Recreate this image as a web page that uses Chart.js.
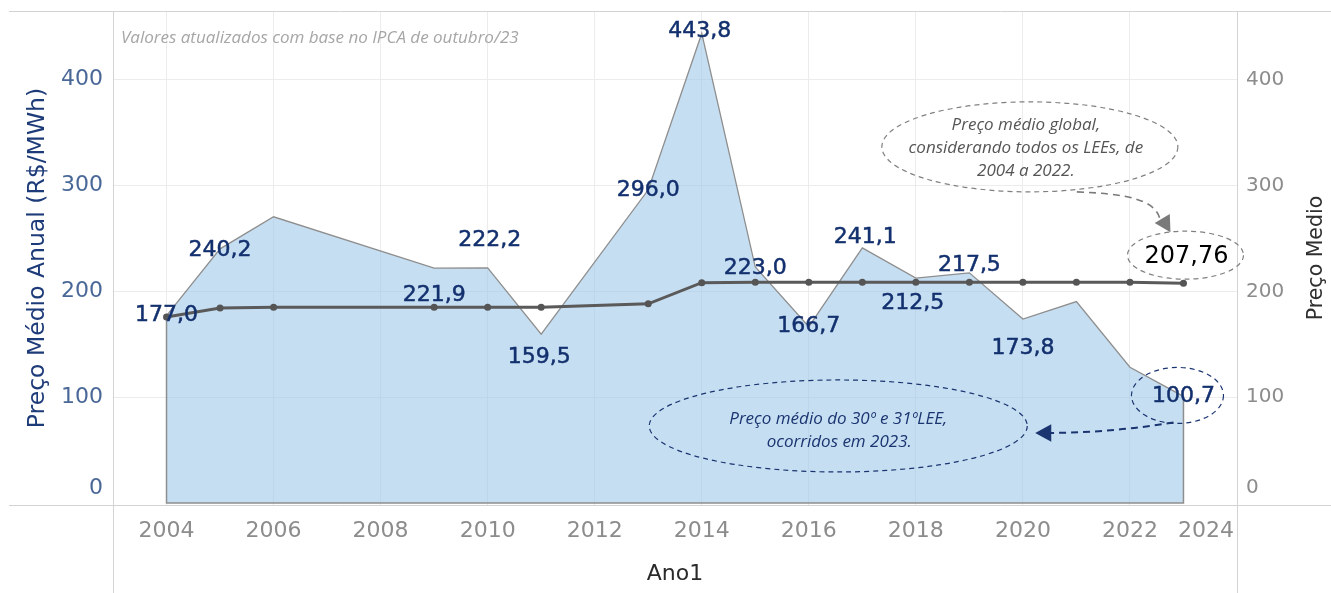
<!DOCTYPE html>
<html>
<head>
<meta charset="utf-8">
<script src="https://cdn.jsdelivr.net/npm/chart.js@4.4.0/dist/chart.umd.min.js"></script>
<style>
  html, body { margin: 0; padding: 0; background: #fff; }
  #wrap { width: 1331px; height: 593px; }
</style>
</head>
<body>
<div id="wrap"><canvas id="grafico" width="1331" height="593"></canvas></div>
<script>
// anos com leilao (sem 2007, 2008 e 2012)
const anos = [2004, 2005, 2006, 2009, 2010, 2011, 2013, 2014, 2015, 2016, 2017, 2018, 2019, 2020, 2021, 2022, 2023];
// preco medio anual (R$/MWh)
const precoAnual = [177.0, 240.2, 270.5, 221.9, 222.2, 159.5, 296.0, 443.8, 223.0, 166.7, 241.1, 212.5, 217.5, 173.8, 190.4, 128.3, 100.7];
// preco medio acumulado
const precoMedio = [175.8, 184.3, 185.1, 185.1, 185.1, 185.1, 188.2, 208.2, 208.6, 208.6, 208.6, 208.6, 208.6, 208.6, 208.6, 208.6, 207.76];
// quais anos levam rotulo
const comRotulo = [true, true, false, true, true, true, true, true, true, true, true, true, true, true, false, false, true];

const anoTicks = [2004, 2006, 2008, 2010, 2012, 2014, 2016, 2018, 2020, 2022, 2024];
const precoTicks = [0, 100, 200, 300, 400];

// deslocamento dos rotulos em px (dx, dy) - so layout
const rotuloDesloc = [[0,0],[0,1],null,[0,27],[2,-28],[-2,23],[0,0],[-2,-2],[0,1],[0,0],[3,-11],[-3,25],[0,-8],[0,29],null,null,[0,0]];

const fmt = (v, d) => v.toFixed(d).replace('.', ',');

Chart.defaults.font.family = '"DejaVu Sans", sans-serif';

function seta(ctx, x, y, ang, tam) {
    ctx.save();
    ctx.translate(x, y);
    ctx.rotate(ang);
    ctx.setLineDash([]);
    ctx.beginPath();
    ctx.moveTo(0, 0);
    ctx.lineTo(-tam, -tam * 0.55);
    ctx.lineTo(-tam, tam * 0.55);
    ctx.closePath();
    ctx.fill();
    ctx.restore();
}

function elipse(ctx, cx, cy, rx, ry, cor, dash) {
    ctx.save();
    ctx.strokeStyle = cor;
    ctx.lineWidth = 1.2;
    ctx.setLineDash(dash);
    ctx.beginPath();
    ctx.ellipse(cx, cy, rx, ry, 0, 0, Math.PI * 2);
    ctx.stroke();
    ctx.restore();
}

// sem folga extra do chart.js nas pontas dos eixos
function semFolga(s) {
    s.paddingTop = 0;
    s.paddingBottom = 0;
    s.paddingLeft = 0;
    s.paddingRight = 0;
}

// contorno vertical da area (bordas esquerda/direita e base)
const bordaArea = {
    id: 'bordaArea',
    afterDatasetDraw(chart, args) {
        if (args.index !== 0) return;
        const ctx = chart.ctx;
        const pts = args.meta.data;
        const y0 = chart.scales.y.getPixelForValue(0);
        ctx.save();
        ctx.strokeStyle = '#8e8e8e';
        ctx.lineWidth = 1.5;
        ctx.beginPath();
        ctx.moveTo(pts[0].x, pts[0].y);
        ctx.lineTo(pts[0].x, y0);
        ctx.lineTo(pts[pts.length - 1].x, y0);
        ctx.lineTo(pts[pts.length - 1].x, pts[pts.length - 1].y);
        ctx.stroke();
        ctx.restore();
    }
};

const extras = {
    id: 'extras',
    afterDraw(chart) {
        const ctx = chart.ctx;
        const ca = chart.chartArea;
        const x = chart.scales.x, y = chart.scales.y;
        const W = chart.width, H = chart.height;
        ctx.save();

        // molduras
        ctx.strokeStyle = '#d3d3d3';
        ctx.lineWidth = 1;
        ctx.beginPath();
        ctx.moveTo(9, ca.top + 0.5); ctx.lineTo(W, ca.top + 0.5);
        ctx.moveTo(9, ca.bottom + 0.5); ctx.lineTo(W, ca.bottom + 0.5);
        ctx.moveTo(ca.left + 0.5, ca.top); ctx.lineTo(ca.left + 0.5, H);
        ctx.moveTo(ca.right + 0.5, ca.top); ctx.lineTo(ca.right + 0.5, H);
        ctx.stroke();

        // rotulos "0" levantados e 2024 recuado
        const y0 = y.getPixelForValue(0) - 15;
        ctx.textBaseline = 'middle';
        ctx.font = '22px "DejaVu Sans"';
        ctx.fillStyle = '#4a6897';
        ctx.textAlign = 'right';
        ctx.fillText('0', ca.left - 10, y0);
        ctx.font = '20px "DejaVu Sans"';
        ctx.fillStyle = '#8c8c8c';
        ctx.textAlign = 'left';
        ctx.fillText('0', ca.right + 9, y0);
        ctx.font = '22px "DejaVu Sans"';
        ctx.textAlign = 'right';
        ctx.textBaseline = 'top';
        ctx.fillText(String(anoTicks[anoTicks.length - 1]), ca.right - 3, x.top + 15);

        // titulo eixo direito (de baixo para cima)
        ctx.save();
        ctx.translate(W - 14, (ca.top + ca.bottom) / 2);
        ctx.rotate(-Math.PI / 2);
        ctx.font = '20.5px "DejaVu Sans"';
        ctx.fillStyle = '#2f2f2f';
        ctx.textAlign = 'center';
        ctx.textBaseline = 'middle';
        ctx.fillText('Preço Medio', 0, 0);
        ctx.restore();

        // subtitulo
        ctx.font = 'italic 17px "Open Sans"';
        ctx.fillStyle = '#a6a6a6';
        ctx.textAlign = 'left';
        ctx.textBaseline = 'middle';
        ctx.fillText('Valores atualizados com base no IPCA de outubro/23', ca.left + 8, ca.top + 27);

        // rotulos da area
        const area = chart.getDatasetMeta(0).data;
        ctx.font = '22px "DejaVu Sans"';
        ctx.fillStyle = '#13306e';
        ctx.strokeStyle = '#13306e';
        ctx.lineWidth = 0.5;
        ctx.textAlign = 'center';
        ctx.textBaseline = 'middle';
        area.forEach((p, i) => {
            if (!comRotulo[i]) return;
            const d = rotuloDesloc[i];
            const t = fmt(precoAnual[i], 1);
            ctx.fillText(t, p.x + d[0], p.y + d[1]);
            ctx.strokeText(t, p.x + d[0], p.y + d[1]);
        });

        // rotulo do preco medio final
        const linha = chart.getDatasetMeta(1).data;
        const ult = linha[linha.length - 1];
        ctx.font = '24px "DejaVu Sans"';
        ctx.fillStyle = '#000000';
        ctx.fillText(fmt(precoMedio[precoMedio.length - 1], 2), ult.x + 3, ult.y - 26);
        elipse(ctx, ult.x + 2, ult.y - 28, 58, 24, '#808080', [5, 4]);

        // nota preco medio global
        const gx = x.getPixelForValue(2020.13), gy = y.getPixelForValue(336.6);
        elipse(ctx, gx, gy, 148, 45, '#808080', [5, 4]);
        ctx.font = 'italic 17px "Open Sans"';
        ctx.fillStyle = '#555555';
        ctx.fillText('Preço médio global,', gx - 4, gy - 22);
        ctx.fillText('considerando todos os LEEs, de', gx - 4, gy + 1);
        ctx.fillText('2004 a 2022.', gx - 4, gy + 24);
        ctx.strokeStyle = '#7a7a7a';
        ctx.fillStyle = '#7a7a7a';
        ctx.lineWidth = 1.6;
        ctx.setLineDash([7, 5]);
        ctx.beginPath();
        ctx.moveTo(gx + 47, gy + 45);
        ctx.bezierCurveTo(gx + 95, gy + 47, gx + 125, gy + 52, gx + 130, gy + 72);
        ctx.stroke();
        seta(ctx, ult.x - 13, ult.y - 51, Math.atan2(15, 9), 16);

        // nota leiloes 2023
        const ua = area[area.length - 1];
        elipse(ctx, ua.x - 6, ua.y - 1, 46, 28, '#1a3570', [5, 4]);
        const nx = x.getPixelForValue(2016.55), ny = y.getPixelForValue(72.8);
        elipse(ctx, nx, ny, 189, 46, '#1a3570', [5, 4]);
        ctx.font = 'italic 17px "Open Sans"';
        ctx.fillStyle = '#1a3570';
        ctx.fillText('Preço médio do 30º e 31ºLEE,', nx, ny - 7);
        ctx.fillText('ocorridos em 2023.', nx + 1, ny + 16);
        ctx.strokeStyle = '#1a3570';
        ctx.lineWidth = 2;
        ctx.setLineDash([7, 5]);
        ctx.beginPath();
        ctx.moveTo(ua.x - 10, ua.y + 26);
        ctx.quadraticCurveTo(ua.x - 70, ua.y + 36, nx + 212, ny + 7);
        ctx.stroke();
        seta(ctx, nx + 197, ny + 7, Math.PI, 16);

        ctx.restore();
    }
};

new Chart(document.getElementById('grafico'), {
    type: 'line',
    data: {
        datasets: [
            {
                label: 'Preço Médio Anual (R$/MWh)',
                data: anos.map((a, i) => ({x: a, y: precoAnual[i]})),
                borderColor: '#8e8e8e',
                borderWidth: 1.3,
                backgroundColor: 'rgba(157,198,232,0.58)',
                fill: 'origin',
                pointRadius: 0,
                tension: 0,
                yAxisID: 'y',
                order: 2
            },
            {
                label: 'Preço Medio',
                data: anos.map((a, i) => ({x: a, y: precoMedio[i]})),
                borderColor: '#5a5a5a',
                borderWidth: 3,
                pointRadius: 3.5,
                pointBackgroundColor: '#555555',
                pointBorderWidth: 0,
                fill: false,
                tension: 0,
                yAxisID: 'y2',
                order: 1
            }
        ]
    },
    options: {
        responsive: false,
        animation: false,
        layout: { padding: { top: 11, left: 0, right: 0, bottom: 0 } },
        plugins: {
            legend: { display: false },
            tooltip: { enabled: false }
        },
        scales: {
            x: {
                type: 'linear',
                min: 2003,
                max: 2024,
                afterBuildTicks: s => { s.ticks = anoTicks.map(v => ({value: v})); },
                afterFit: s => { s.height = 88; semFolga(s); },
                ticks: {
                    color: '#8c8c8c',
                    font: { size: 22 },
                    padding: 13,
                    maxRotation: 0,
                    autoSkip: false,
                    callback: v => v === 2024 ? '' : String(v)
                },
                grid: { color: '#ececec', drawTicks: false },
                border: { display: false },
                title: {
                    display: true,
                    text: 'Ano1',
                    color: '#2a2a2a',
                    font: { size: 22 },
                    padding: { top: 0, bottom: 6 }
                }
            },
            y: {
                position: 'left',
                min: -1.9,
                max: 465,
                afterBuildTicks: s => { s.ticks = precoTicks.map(v => ({value: v})); },
                afterFit: s => { s.width = 113; semFolga(s); },
                ticks: {
                    color: '#4a6897',
                    font: { size: 22 },
                    padding: 10,
                    callback: v => v === 0 ? '' : String(v)
                },
                grid: {
                    color: c => c.tick && c.tick.value === 0 ? 'rgba(0,0,0,0)' : '#ececec',
                    drawTicks: false
                },
                border: { display: false },
                title: {
                    display: true,
                    text: 'Preço Médio Anual (R$/MWh)',
                    color: '#1d3b78',
                    font: { size: 23.5 },
                    padding: { top: 24, bottom: 0 }
                }
            },
            y2: {
                position: 'right',
                min: -1.9,
                max: 465,
                afterBuildTicks: s => { s.ticks = precoTicks.map(v => ({value: v})); },
                afterFit: s => { s.width = 94; semFolga(s); },
                ticks: {
                    color: '#8c8c8c',
                    font: { size: 20 },
                    padding: 9,
                    callback: v => v === 0 ? '' : String(v)
                },
                grid: { display: false, drawTicks: false },
                border: { display: false }
            }
        }
    },
    plugins: [bordaArea, extras]
});
</script>
</body>
</html>
